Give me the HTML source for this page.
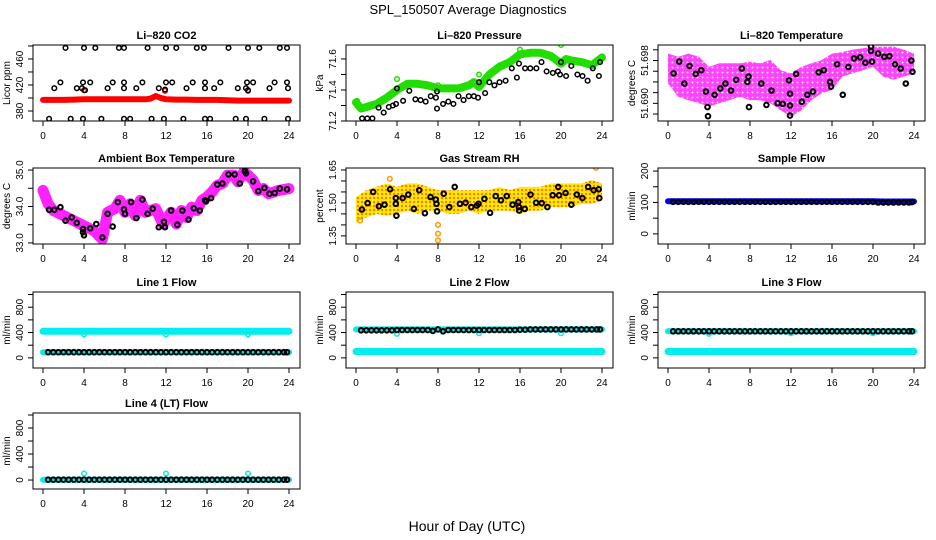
<!DOCTYPE html>
<html><head><meta charset="utf-8">
<style>
html,body{margin:0;padding:0;background:#fff;}
svg{display:block;}
text{font-family:"Liberation Sans",sans-serif;fill:#000;}
</style></head>
<body>
<svg id="chart" width="936" height="540" viewBox="0 0 936 540">
<defs>
<pattern id="magPat" width="5" height="5" patternUnits="userSpaceOnUse">
<rect width="5" height="5" fill="#ff44ff"/>
<circle cx="2.5" cy="2.5" r="0.9" fill="#fff"/>
</pattern>
<pattern id="rhPat" width="4" height="4" patternUnits="userSpaceOnUse">
<rect width="4" height="4" fill="#ffee00"/>
<circle cx="2" cy="2" r="1.2" fill="#ff7700"/>
</pattern>
</defs>
<text x="468" y="14" text-anchor="middle" font-size="13">SPL_150507  Average Diagnostics</text>
<text x="467" y="531" text-anchor="middle" font-size="14">Hour of Day (UTC)</text>
<g id="panels"></g>
</svg>
<script>
// ---------- shared ----------
const xTicks = [0,4,8,12,16,20,24];
const bandHours = [0,1,2,3,4,5,6,7,8,9,10,11,12,13,14,15,16,17,18,19,20,21,22,23,24];
const markHours = [0.5,1,1.5,2,2.5,3,3.5,4,4.5,5,5.5,6,6.5,7,7.5,8,8.5,9,9.5,10,10.5,11,11.5,12,12.5,13,13.5,14,14.5,15,15.5,16,16.5,17,17.5,18,18.5,19,19.5,20,20.5,21,21.5,22,22.5,23,23.5,23.8];

// ---------- CO2 ----------
const co2BandHours = [0,1,2,3,4,5,6,7,8,9,10,10.5,11,11.5,12,13,14,15,16,17,18,19,20,21,22,23,24];
const co2Band = [397,397,397,397.5,398,398,398,398,398,398,398,399,403,400,398,397.5,397.5,397,397,397,396.5,396,396,396,396,396,396];
const co2TopH = [2.2,4,5.1,7.4,7.9,10.2,12,13,15,15.7,18.1,20,21.1,23.1,23.8];
const co2TopV = [477,477,477,477,477,477,477,477,477,477,477,477,477,477,477];
const co2HiH = [1.7,3.9,4.6,6.8,7.9,9.7,12,12.6,14.6,15.8,17.3,19.9,20.5,22.6,23.8];
const co2HiV = [424,424,424,424,424,424,424,424,424,424,424,424,424,424,424];
const co2MidH = [1.1,3.3,3.8,4.1,6.3,7.9,9.1,11.3,11.9,14,15.8,16.7,19,19.8,20,22.1,23.9];
const co2MidV = [415,415,415,412,415,415,415,415,413,415,415,415,415,415,412,415,415];
const co2LoH = [0.6,2.7,3.9,5.7,7.9,8.5,10.6,11.8,13.7,15.8,16.3,18.8,19.8,21.6,23.9];
const co2LoV = [368,368,368,368,368,368,368,368,368,368,368,368,368,368,368];

// ---------- Pressure ----------
const presBandHours = [0,0.5,1,2,3,4,5,6,7,8,9,10,11,11.5,12,13,14,15,16,17,18,19,20,20.5,21,22,23,24];
const presBand = [71.32,71.28,71.29,71.31,71.35,71.40,71.44,71.44,71.43,71.41,71.41,71.41,71.43,71.45,71.42,71.50,71.55,71.58,71.63,71.64,71.64,71.62,71.57,71.60,71.59,71.58,71.56,71.61];
const presOutH = [0.1,4,8,12,16,20];
const presOutV = [71.33,71.47,71.43,71.50,71.66,71.69];
const presBlkH = [0.6,1.1,1.6,2.2,2.7,3.2,3.6,3.9,4,4.6,5.2,5.8,6.3,6.8,7.3,7.8,7.9,7.9,8.5,9,9.5,10,10.5,11,11.5,11.9,12,12.6,13,13.5,14,14.6,15.2,15.7,15.9,16.5,17,17.6,18.1,18.6,19.2,19.7,19.9,20,20.5,21,21.6,22.1,22.6,23.1,23.7,23.8];
const presBlkV = [71.217,71.217,71.217,71.286,71.254,71.29,71.30,71.31,71.41,71.33,71.395,71.34,71.335,71.325,71.36,71.35,71.39,71.28,71.31,71.325,71.31,71.36,71.335,71.36,71.36,71.35,71.45,71.38,71.45,71.43,71.45,71.46,71.54,71.48,71.57,71.54,71.54,71.54,71.58,71.52,71.51,71.52,71.50,71.58,71.49,71.555,71.50,71.49,71.46,71.54,71.49,71.58];

// ---------- Li-820 Temperature ----------
const tempUpper = [51.6993,51.6987,51.6993,51.6987,51.6968,51.6975,51.6975,51.6975,51.6978,51.6975,51.6981,51.6962,51.6956,51.6968,51.6975,51.6981,51.6993,51.6996,51.7000,51.7003,51.7006,51.7006,51.7006,51.7000,51.6993];
const tempLower = [51.6937,51.6912,51.6906,51.6900,51.6894,51.6900,51.6906,51.6912,51.6906,51.6906,51.6900,51.6887,51.6875,51.6887,51.6906,51.6919,51.6925,51.6950,51.6956,51.6962,51.6968,51.6950,51.6944,51.6950,51.6956];
const tempBlkH = [0.55,1.1,1.6,2.1,2.7,3.25,3.7,3.85,3.9,4.55,5.1,5.6,6.15,6.65,7.2,7.75,7.85,7.9,9.1,9.6,10.1,10.7,11.2,11.8,11.9,11.9,11.9,12.5,13.05,13.6,14.15,14.7,15.2,15.8,15.9,16.5,17.05,17.6,18.15,18.75,19.25,19.8,19.8,19.9,20.5,21.1,21.6,22.15,22.7,23.2,23.75,23.85];
const tempBlkV = [51.6956,51.6978,51.6937,51.6970,51.6955,51.6962,51.6922,51.6893,51.6876,51.6916,51.6928,51.6937,51.6924,51.6944,51.6965,51.6940,51.6950,51.6893,51.6937,51.6897,51.6924,51.6900,51.6899,51.6943,51.6918,51.6896,51.6877,51.6955,51.6903,51.6916,51.6922,51.6958,51.6962,51.6940,51.6931,51.6973,51.6916,51.6968,51.6984,51.6986,51.6976,51.6998,51.7006,51.6978,51.6993,51.6987,51.6988,51.6973,51.6965,51.6937,51.6980,51.6959];

// ---------- Ambient Box Temperature ----------
const ambHours = [0,0.5,1,2,3,4,5,5.8,6.3,7,7.5,8,8.5,9,9.5,10,11,11.7,12.5,13,13.5,14,14.5,15,15.5,16,16.5,17,17.5,18,18.6,19,19.6,20,20.5,21,21.5,22,23,24];
const ambBand = [34.44,34.07,33.89,33.75,33.61,33.47,33.33,33.10,33.84,33.94,34.17,33.84,34.07,33.75,34.17,33.84,33.94,33.52,33.84,33.52,33.89,33.70,33.98,33.89,34.17,34.26,34.40,34.58,34.63,34.86,34.86,34.68,34.95,34.86,34.72,34.44,34.49,34.35,34.44,34.49];
const ambBlkH = [0.6,1.1,1.7,2.2,2.8,3.3,3.9,3.9,4,4.6,5.2,5.8,6.3,6.8,7.3,7.9,8,8.6,9.1,9.7,10.2,10.7,11.3,11.8,11.9,12.5,13.1,13.6,14.2,14.7,15.3,15.8,15.9,16.4,17,17.5,18.1,18.7,19.2,19.7,19.8,20.5,21,21.6,22.1,22.6,23.1,23.8];
const ambBlkV = [33.91,33.91,33.98,33.61,33.70,33.55,33.38,33.29,33.21,33.40,33.52,33.15,33.80,33.45,34.12,33.92,33.80,34.12,33.68,34.19,33.80,33.94,33.43,33.58,33.43,33.89,33.50,33.89,33.64,33.95,33.89,34.17,34.14,34.23,34.60,34.63,34.88,34.88,34.63,34.97,34.91,34.69,34.42,34.51,34.35,34.37,34.49,34.47];

// ---------- Gas Stream RH ----------
const rhUpper = [1.527,1.558,1.573,1.589,1.573,1.589,1.589,1.573,1.558,1.558,1.558,1.558,1.558,1.558,1.573,1.558,1.573,1.573,1.573,1.589,1.589,1.589,1.589,1.604,1.589];
const rhLower = [1.411,1.434,1.450,1.442,1.450,1.465,1.450,1.465,1.465,1.450,1.450,1.465,1.450,1.465,1.465,1.465,1.450,1.465,1.465,1.481,1.481,1.481,1.496,1.496,1.512];
const rhOutH = [0.4,3.3,8,8,8,23.4];
const rhOutV = [1.42,1.61,1.40,1.36,1.33,1.66];
const rhBlkH = [0.58,1.13,1.68,2.23,2.78,3.33,3.88,3.88,3.94,4.55,5.1,5.65,6.17,6.72,7.27,7.78,7.85,7.91,8.56,9.1,9.63,10.14,10.69,11.24,11.79,11.95,12.53,13.08,13.63,14.15,14.7,15.28,15.83,15.89,15.92,16.47,17.02,17.57,18.12,18.67,19.19,19.73,19.8,20.45,21.0,21.54,22.09,22.64,23.19,23.68,23.74];
const rhBlkV = [1.470,1.499,1.550,1.485,1.492,1.562,1.522,1.496,1.442,1.522,1.538,1.473,1.558,1.453,1.527,1.515,1.496,1.462,1.542,1.481,1.573,1.496,1.501,1.481,1.488,1.496,1.519,1.455,1.531,1.512,1.531,1.492,1.504,1.481,1.465,1.473,1.538,1.501,1.499,1.481,1.535,1.573,1.535,1.545,1.492,1.538,1.522,1.573,1.558,1.562,1.522];

// ---------- Flows ----------
const sampleBand = [104,104,104,104,104,104,104,104,104,104,104,104,104,104,104,104,104,104,104,104,104,103,103,103,103];
const sampleBlk = [102,102,102,102,102,102,102,102,102,102,102,102,102,102,102,102,102,102,102,102,102,102,102,102,102,102,102,102,102,102,102,102,102,102,102,102,102,102,102,102,100,100,100,100,100,100,100,101];
const line1HiBand = [420,420,420,420,420,420,420,420,420,420,420,420,420,420,420,420,420,420,420,420,420,420,420,420,420];
const line1LoBand = [90,90,90,90,90,90,90,90,90,90,90,90,90,90,90,90,90,90,90,90,90,90,90,90,90];
const line1Blk = [90,90,90,90,90,90,90,90,90,90,90,90,90,90,90,90,90,90,90,90,90,90,90,90,90,90,90,90,90,90,90,90,90,90,90,90,90,90,90,90,90,90,90,90,90,90,90,90];
const line2HiBand = [450,450,450,450,450,450,450,450,450,450,450,450,450,450,450,450,450,450,450,450,450,450,450,450,450];
const line2LoBand = [100,100,100,100,100,100,100,100,100,100,100,100,100,100,100,100,100,100,100,100,100,100,100,100,100];
const line2Blk = [435,435,435,435,435,435,435,440,440,440,440,440,440,440,425,450,420,440,440,440,440,440,440,440,440,440,440,440,440,440,440,445,445,450,450,450,450,450,450,450,450,450,450,450,450,450,450,450];
const line3HiBand = [420,420,420,420,420,420,420,420,420,420,420,420,420,420,420,420,420,420,420,420,420,420,420,420,420];
const line3LoBand = [100,100,100,100,100,100,100,100,100,100,100,100,100,100,100,100,100,100,100,100,100,100,100,100,100];
const line3Blk = [420,420,420,420,420,420,420,420,420,420,420,420,420,420,420,420,420,420,420,420,420,420,420,420,420,420,420,420,420,420,420,420,420,420,420,420,420,420,420,420,420,420,420,420,420,420,420,420];
const line4Band = [5,5,5,5,5,5,5,5,5,5,5,5,5,5,5,5,5,5,5,5,5,5,5,5,5];
const line4Blk = [5,5,5,5,5,5,5,5,5,5,5,5,5,5,5,5,5,5,5,5,5,5,5,5,5,5,5,5,5,5,5,5,5,5,5,5,5,5,5,5,5,5,5,5,5,5,5,5];
const dipHours = [4,12,20];
const line1Dips = [370,370,370];
const line2Dips = [380,390,390];
const line4Dips = [100,100,100];

// ---------- drawing ----------
const NS = 'http://www.w3.org/2000/svg';
const root = document.getElementById('panels');
function mk(tag, attrs, parent){const e=document.createElementNS(NS,tag);for(const k in attrs)e.setAttribute(k,attrs[k]);(parent||root).appendChild(e);return e;}

const colL = [33,346,658], rowT = [45,168,292,413], W = 267, H = 76;

function panel(name, col, row, title, ylab, yMin, yMax, yTickVals, yLabVals, yLabFmt){
  const L = colL[col], T = rowT[row];
  const g = mk('g', {});
  
  
  const sx = h => L + 10 + h * 246 / 24;
  const sy = v => T + H - (v - yMin) / (yMax - yMin) * H;
  const t = mk('text', {x: L + W/2, y: T - 6, 'text-anchor':'middle', 'font-size':'11', 'font-weight':'bold'}, g);
  t.textContent = title;
  
  
  const plot = mk('g', {}, g);
  
  
  const cp = 'clip-' + name;
  const cl = mk('clipPath', {id: cp}, g);
  mk('rect', {x: L, y: T, width: W, height: H}, cl);
  plot.setAttribute('clip-path', 'url(#' + cp + ')');
  const box = mk('rect', {x: L, y: T, width: W, height: H, fill:'none', stroke:'#000', 'stroke-width':'1'}, g);
  
  
  const xa = mk('g', {}, g);
  
  
  xTicks.forEach(h => {
    mk('line', {x1: sx(h), x2: sx(h), y1: T + H, y2: T + H + 5, stroke:'#000'}, xa);
    const tl = mk('text', {x: sx(h), y: T + H + 18, 'text-anchor':'middle', 'font-size':'10'}, xa);
    tl.textContent = h;
    
    
  });
  const ya = mk('g', {}, g);
  
  
  yTickVals.forEach(v => { mk('line', {x1: L - 5, x2: L, y1: sy(v), y2: sy(v), stroke:'#000'}, ya); });
  yLabVals.forEach(v => {
    const yy = sy(v);
    const tl = mk('text', {x: L - 10, y: yy, 'text-anchor':'middle', 'font-size':'10', transform:'rotate(-90 ' + (L - 10) + ' ' + yy + ')'}, ya);
    tl.textContent = yLabFmt(v);
    
    
  });
  const yt = mk('text', {x: L - 23, y: T + H/2, 'text-anchor':'middle', 'font-size':'10', transform:'rotate(-90 ' + (L - 23) + ' ' + (T + H/2) + ')'}, g);
  yt.textContent = ylab;
  
  
  return {plot, sx, sy};
}

function band(p, hours, vals, color, width, nm){
  const pts = hours.map((h,i) => p.sx(h).toFixed(1) + ',' + p.sy(vals[i]).toFixed(1)).join(' ');
  const e = mk('polyline', {points: pts, fill:'none', stroke: color, 'stroke-width': width, 'stroke-linejoin':'round', 'stroke-linecap':'round'}, p.plot);
  
  
}
function area(p, hours, up, lo, fill, nm){
  const a = hours.map((h,i) => p.sx(h).toFixed(1) + ',' + p.sy(up[i]).toFixed(1));
  const b = hours.map((h,i) => p.sx(h).toFixed(1) + ',' + p.sy(lo[i]).toFixed(1)).reverse();
  const e = mk('polygon', {points: a.concat(b).join(' '), fill: fill, stroke: 'none'}, p.plot);
  
  
}
function pts(p, hours, vals, color, nm, sw){
  hours.forEach((h,i) => {
    const c = mk('circle', {cx: p.sx(h).toFixed(1), cy: p.sy(vals[i]).toFixed(1), r: 2.3, fill:'none', stroke: color, 'stroke-width': sw || 1.5}, p.plot);
    
    
  });
}
const f0 = v => String(v);

let p = panel('co2-panel', 0, 0, 'Li\u2013820 CO2', 'Licor ppm', 364.6, 481.5, [380,400,420,440,460,480], [380,420,460], f0);
band(p, co2BandHours, co2Band, '#ff0000', 6, 'co2-band');
pts(p, [4,11.9,20], [412,411,411], '#ff0000', 'co2-outlier');
pts(p, co2TopH, co2TopV, '#000', 'co2-point');
pts(p, co2HiH, co2HiV, '#000', 'co2-point');
pts(p, co2MidH, co2MidV, '#000', 'co2-point');
pts(p, co2LoH, co2LoV, '#000', 'co2-point');

p = panel('pressure-panel', 1, 0, 'Li\u2013820 Pressure', 'kPa', 71.2, 71.69, [71.2,71.3,71.4,71.5,71.6], [71.2,71.4,71.6], v => v.toFixed(1));
band(p, presBandHours, presBand, '#22dd00', 8, 'pressure-band');
pts(p, presOutH, presOutV, '#22dd00', 'pressure-outlier');
pts(p, presBlkH, presBlkV, '#000', 'pressure-point');

p = panel('li820-temp-panel', 2, 0, 'Li\u2013820 Temperature', 'degrees C', 51.6867, 51.7009, [51.688,51.690,51.692,51.694,51.696,51.698,51.700], [51.690,51.698], v => v.toFixed(3));
area(p, bandHours, tempUpper, tempLower, 'url(#magPat)', 'li820-temp-cloud');
pts(p, tempBlkH, tempBlkV, '#000', 'li820-temp-point', 2);

p = panel('ambient-temp-panel', 0, 1, 'Ambient Box Temperature', 'degrees C', 32.97, 35.056, [33,33.5,34,34.5,35], [33,34,35], v => v.toFixed(1));
band(p, ambHours, ambBand, '#ff22ff', 11, 'ambient-temp-band');
pts(p, ambBlkH, ambBlkV, '#000', 'ambient-temp-point', 2);

p = panel('rh-panel', 1, 1, 'Gas Stream RH', 'percent', 1.313, 1.659, [1.35,1.40,1.45,1.50,1.55,1.60,1.65], [1.35,1.50,1.65], v => v.toFixed(2));
area(p, bandHours, rhUpper, rhLower, 'url(#rhPat)', 'rh-cloud');
pts(p, rhOutH, rhOutV, '#ff9900', 'rh-outlier');
pts(p, rhBlkH, rhBlkV, '#000', 'rh-point', 2);

p = panel('sample-flow-panel', 2, 1, 'Sample Flow', 'ml/min', -32.3, 209.7, [0,50,100,150,200], [0,100,200], f0);
band(p, bandHours, sampleBand, '#0000ff', 6, 'sample-flow-band');
pts(p, markHours, sampleBlk, '#000', 'sample-flow-point', 2);

const flowTicks = [0,200,400,600,800,1000], flowLabs = [0,400,800];
p = panel('line1-flow-panel', 0, 2, 'Line 1 Flow', 'ml/min', -160, 1040, flowTicks, flowLabs, f0);
band(p, bandHours, line1HiBand, '#00eeee', 7, 'line1-high-band');
band(p, bandHours, line1LoBand, '#00eeee', 6, 'line1-low-band');
pts(p, dipHours, line1Dips, '#00eeee', 'line1-outlier');
pts(p, markHours, line1Blk, '#000', 'line1-point', 2);

p = panel('line2-flow-panel', 1, 2, 'Line 2 Flow', 'ml/min', -160, 1040, flowTicks, flowLabs, f0);
band(p, bandHours, line2HiBand, '#00eeee', 6, 'line2-high-band');
band(p, bandHours, line2LoBand, '#00eeee', 7, 'line2-low-band');
pts(p, dipHours, line2Dips, '#00eeee', 'line2-outlier');
pts(p, markHours, line2Blk, '#000', 'line2-point', 2);

p = panel('line3-flow-panel', 2, 2, 'Line 3 Flow', 'ml/min', -160, 1040, flowTicks, flowLabs, f0);
band(p, bandHours, line3HiBand, '#00eeee', 6, 'line3-high-band');
band(p, bandHours, line3LoBand, '#00eeee', 7, 'line3-low-band');
pts(p, dipHours, line2Dips, '#00eeee', 'line3-outlier');
pts(p, markHours, line3Blk, '#000', 'line3-point', 2);

p = panel('line4-flow-panel', 0, 3, 'Line 4 (LT) Flow', 'ml/min', -138, 1031, flowTicks, flowLabs, f0);
band(p, bandHours, line4Band, '#00eeee', 6, 'line4-band');
pts(p, dipHours, line4Dips, '#00eeee', 'line4-outlier');
pts(p, markHours, line4Blk, '#000', 'line4-point', 2);
</script>
</body></html>
